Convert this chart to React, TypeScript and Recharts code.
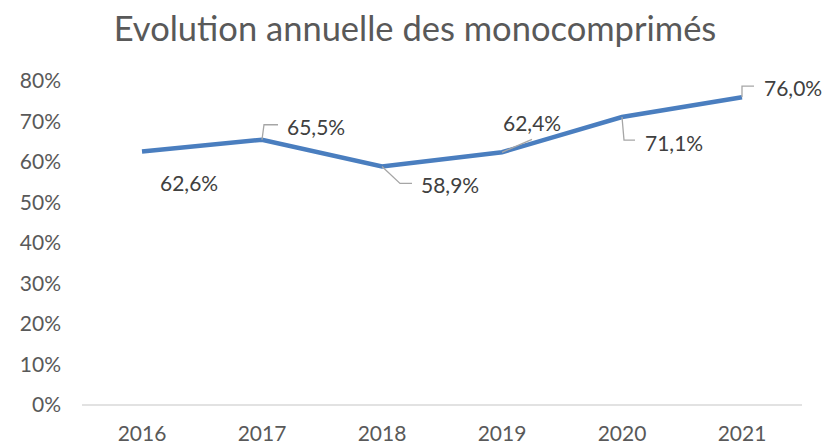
import { LineChart, Line, XAxis, YAxis, LabelList } from "recharts";

const years = ["2016", "2017", "2018", "2019", "2020", "2021"];
const shares = [62.6, 65.5, 58.9, 62.4, 71.1, 76.0];
const yTicks = [0, 10, 20, 30, 40, 50, 60, 70, 80];

const data = years.map((year, i) => ({ year, share: shares[i] }));

const FONT = "Lato, 'Open Sans', sans-serif";

// label placement relative to each point (text start, vertical centre, leader polyline)
const labelPlacement = [
  { dx: 18, dy: 31, leader: [] as number[][] },
  { dx: 25, dy: -13, leader: [[0, 0], [2, -15], [16, -15]] },
  { dx: 39, dy: 18, leader: [[0, 0], [18, 17], [30, 17]] },
  { dx: 1, dy: -30, leader: [[0, 0], [30, -13]] },
  { dx: 23, dy: 25, leader: [[0, 0], [2, 23], [13, 23]] },
  { dx: 22, dy: -10, leader: [[0, 0], [0, -11], [12, -11]] },
];

const fmt = (v: number) => v.toFixed(1).replace(".", ",") + "%";

function PointLabel(props: any) {
  const { x, y, value, index } = props;
  const p = labelPlacement[index];
  if (!p) return null;
  const d = p.leader.map((pt, i) => `${i === 0 ? "M" : "L"}${x + pt[0]},${y + pt[1]}`).join(" ");
  return (
    <g>
      {d && <path d={d} stroke="#a6a6a6" strokeWidth={1.3} fill="none" />}
      <text
        x={x + p.dx}
        y={y + p.dy}
        dominantBaseline="central"
        fill="#404040"
        fontSize={21}
        fontFamily={FONT}
      >
        {fmt(value)}
      </text>
    </g>
  );
}

export default function App() {
  return (
    <div style={{ position: "absolute", left: 0, top: 0, width: 825, height: 444, background: "#fff" }}>
      <div
        style={{
          position: "absolute",
          left: 0,
          width: 830,
          top: 7,
          textAlign: "center",
          fontFamily: FONT,
          fontSize: 34.5,
          color: "#595959",
        }}
      >
        Evolution annuelle des monocomprimés
      </div>
      <LineChart width={825} height={444} data={data} margin={{ top: 81, right: 23, left: 0, bottom: 9 }}>
        <XAxis
          dataKey="year"
          padding={{ left: 60, right: 60 }}
          stroke="#d9d9d9"
          strokeWidth={1.5}
          tickLine={false}
          tickSize={0}
          tickMargin={21}
          height={30}
          tick={{ fill: "#595959", fontSize: 21, fontFamily: FONT }}
        />
        <YAxis
          domain={[0, 80]}
          ticks={yTicks}
          width={82}
          axisLine={false}
          tickLine={false}
          tickSize={0}
          tickMargin={21}
          tickFormatter={(v: number) => `${v}%`}
          tick={{ fill: "#595959", fontSize: 21, fontFamily: FONT }}
        />
        <Line
          dataKey="share"
          stroke="#4a7ebf"
          strokeWidth={4.5}
          dot={false}
          isAnimationActive={false}
        >
          <LabelList dataKey="share" content={PointLabel} />
        </Line>
      </LineChart>
    </div>
  );
}
